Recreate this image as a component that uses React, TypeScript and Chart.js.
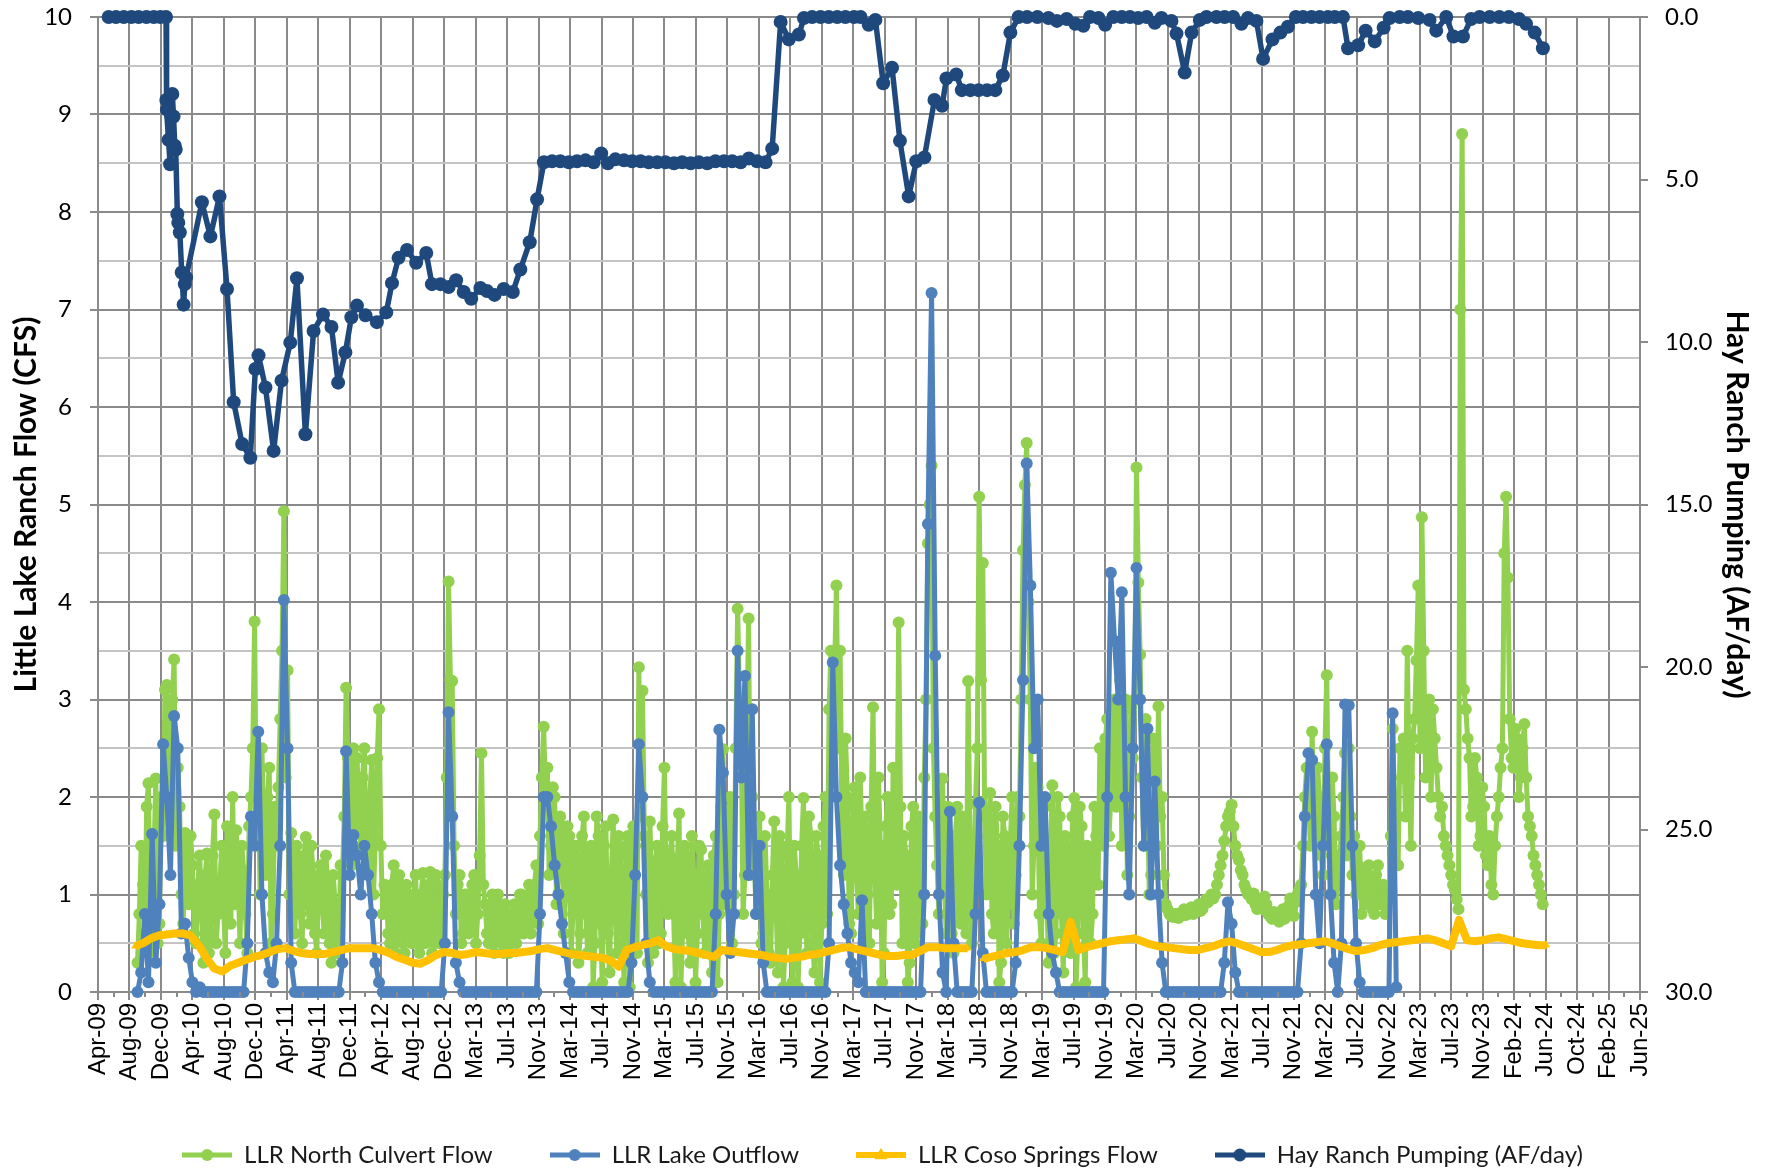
import React, { useEffect, useRef } from 'react';
import { Chart, registerables } from 'chart.js';

Chart.register(...registerables);

// ---------- axis labels ----------
const X_LABELS = [
  'Apr-09', 'Aug-09', 'Dec-09', 'Apr-10', 'Aug-10', 'Dec-10', 'Apr-11', 'Aug-11', 'Dec-11',
  'Apr-12', 'Aug-12', 'Dec-12', 'Mar-13', 'Jul-13', 'Nov-13', 'Mar-14', 'Jul-14', 'Nov-14',
  'Mar-15', 'Jul-15', 'Nov-15', 'Mar-16', 'Jul-16', 'Nov-16', 'Mar-17', 'Jul-17', 'Nov-17',
  'Mar-18', 'Jul-18', 'Nov-18', 'Mar-19', 'Jul-19', 'Nov-19', 'Mar-20', 'Jul-20', 'Nov-20',
  'Mar-21', 'Jul-21', 'Nov-21', 'Mar-22', 'Jul-22', 'Nov-22', 'Mar-23', 'Jul-23', 'Nov-23',
  'Feb-24', 'Jun-24', 'Oct-24', 'Feb-25', 'Jun-25',
];
const X_MIN = 2009.277; // decimal year of first tick
const X_STEP = 0.33077; // years between ticks

const SERIES_NAMES = ['LLR North Culvert Flow', 'LLR Lake Outflow', 'LLR Coso Springs Flow', 'Hay Ranch Pumping (AF/day)'];
const LEFT_TITLE = 'Little Lake Ranch Flow (CFS)';
const RIGHT_TITLE = 'Hay Ranch Pumping (AF/day)';

// ---------- LLR North Culvert Flow (CFS), biweekly samples: value k at year + k/26 ----------
const green2009 = [0.3, 1.5, 0.6, 2.14, 0.9, 2.19, 0.7, 1.6]; // from k = 18
const green2010 = [3.15, 2.6, 3.41, 2.3, 1.0, 1.63, 0.9, 1.3, 0.5, 1.4, 0.3, 1.42, 0.6, 1.82, 0.8, 1.5, 0.4, 1.3, 2.0, 1.66, 0.5, 1.25, 0.4, 2.0, 3.8, 2.2];
const green2011 = [2.5, 1.2, 2.3, 0.8, 1.5, 2.8, 4.93, 3.3, 1.63, 0.6, 1.35, 0.5, 1.59, 0.7, 1.2, 0.4, 1.3, 0.6, 1.1, 0.3, 0.9, 0.5, 1.2, 3.12, 2.0, 2.5];
const green2012 = [2.4, 1.5, 2.5, 1.2, 2.38, 1.6, 2.9, 0.8, 1.0, 0.5, 1.3, 0.6, 1.1, 0.4, 1.0, 0.5, 1.2, 0.4, 1.22, 0.6, 1.23, 0.5, 1.1, 0.6, 1.2, 4.21];
const green2013 = [3.19, 0.8, 1.2, 0.6, 1.0, 0.7, 1.2, 0.8, 2.45, 0.9, 0.5, 1.0, 0.6, 0.9, 0.4, 0.8, 0.5, 0.9, 0.6, 1.0, 0.7, 1.1, 0.8, 1.3, 1.6, 2.72];
const green2014 = [2.3, 1.5, 2.0, 1.2, 1.7, 1.0, 1.6, 0.8, 1.5, 0.6, 1.8, 0.4, 1.5, 0.5, 1.6, 0.1, 1.7, 0.2, 1.77, 0.4, 1.4, 0.1, 1.6, 0.5, 1.5, 3.33];
const green2015 = [3.09, 1.0, 1.75, 0.4, 1.5, 0.6, 2.3, 0.8, 1.6, 0.1, 1.83, 0.7, 1.4, 0.3, 1.2, 0.6, 1.46, 0.4, 1.3, 0.2, 1.6, 0.8, 2.49, 1.2, 2.0, 1.0];
const green2016 = [3.93, 2.5, 1.2, 3.83, 2.0, 0.8, 1.8, 0.6, 1.0, 0.3, 1.75, 0.2, 1.5, 0.5, 2.0, 0.1, 1.2, 0.6, 1.99, 0.4, 1.6, 0.2, 1.4, 0.7, 2.0, 2.9];
const green2017 = [2.5, 4.17, 3.5, 1.2, 2.0, 0.6, 2.1, 0.8, 1.5, 1.8, 0.5, 2.92, 0.7, 1.5, 0.4, 2.0, 0.9, 1.6, 3.79, 0.5, 1.4, 0.3, 1.9, 0.6, 1.5, 2.2];
const green2018 = [4.6, 5.4, 1.8, 0.8, 2.19, 0.6, 1.5, 0.4, 1.9, 0.7, 1.2, 3.19, 0.5, 1.93, 5.08, 4.4, 1.0, 2.04, 0.6, 1.5, 0.3, 1.6, 0.9, 2.0, 1.2, 1.8];
const green2019 = [4.53, 5.63, 3.0, 1.5, 2.1, 0.5, 1.9, 0.3, 2.12, 0.6, 1.8, 0.2, 1.5, 0.4, 1.99, 0.6, 1.7, 0.1, 1.4, 0.8, 1.6, 2.5, 1.5, 2.8, 2.0, 3.0];
const green2020 = [2.5, 1.5, 3.0, 1.8, 2.4, 5.38, 3.46, 1.5, 2.0, 1.2, 2.0, 2.93, 2.0, 0.9, 0.8, 0.77, 0.8, 0.78, 0.85, 0.8, 0.87, 0.82, 0.9, 0.85, 0.95, 0.96];
const green2021 = [0.96, 1.1, 1.3, 1.55, 1.8, 1.92, 1.5, 1.35, 1.2, 1.05, 1.0, 1.01, 0.85, 0.95, 0.98, 0.8, 0.75, 0.81, 0.72, 0.85, 0.8, 0.96, 0.78, 1.0, 1.1, 2.0];
const green2022 = [2.0, 2.67, 1.5, 2.0, 1.2, 3.25, 1.0, 1.8, 1.1, 1.6, 2.45, 2.5, 1.2, 1.0, 1.5, 1.27, 0.9, 1.1, 0.8, 1.3, 0.96, 0.8, 1.0, 2.7, 1.8, 2.5];
const green2023 = [2.6, 3.5, 1.5, 2.8, 4.17, 4.87, 2.2, 3.0, 2.9, 2.3, 1.8, 1.6, 1.4, 1.2, 1.05, 0.85, 8.8, 2.9, 2.4, 1.9, 2.2, 1.6, 1.9, 1.3, 1.1, 1.5];
const green2024 = [2.0, 2.5, 5.08, 2.8, 2.3, 2.6, 2.2, 2.75, 1.8, 1.6, 1.3, 1.1, 0.9];

// in-between samples (value k at year + (k + 0.5)/26)
const greenMid2009 = [0.8, 1.1, 1.9, 0.4, 1.4, 0.5, 2.0, 3.1]; // from k = 18
const greenMid2010 = [1.8, 3.0, 1.5, 1.9, 0.7, 1.2, 1.6, 0.6, 1.1, 0.8, 1.2, 0.4, 1.4, 0.5, 1.1, 0.9, 1.7, 0.7, 0.9, 1.1, 1.5, 0.8, 1.7, 2.5, 1.5, 1.0];
const greenMid2011 = [1.6, 2.0, 0.5, 1.9, 2.1, 3.5, 2.2, 1.0, 1.2, 1.5, 0.8, 1.4, 0.9, 1.5, 0.6, 1.1, 0.9, 1.4, 0.5, 1.2, 0.4, 1.3, 1.8, 2.4, 1.3, 1.7];
const greenMid2012 = [1.9, 2.2, 1.4, 2.0, 1.0, 2.4, 1.5, 1.1, 0.6, 1.1, 0.4, 1.2, 0.5, 1.1, 0.6, 1.0, 0.5, 1.0, 0.5, 1.1, 0.4, 1.2, 0.5, 1.0, 2.2, 3.2];
const greenMid2013 = [1.5, 1.1, 0.5, 1.0, 0.6, 1.1, 0.5, 1.4, 1.1, 0.6, 0.9, 0.4, 1.0, 0.5, 0.9, 0.4, 0.8, 0.5, 1.0, 0.6, 0.9, 0.6, 1.1, 0.7, 2.2, 2.0];
const greenMid2014 = [1.2, 2.1, 0.9, 1.8, 0.6, 1.7, 0.4, 1.5, 0.3, 1.6, 0.8, 1.4, 0.05, 1.8, 0.7, 1.5, 0.6, 1.2, 0.8, 1.6, 0.5, 1.5, 0.05, 1.7, 0.4, 1.8];
const greenMid2015 = [1.6, 0.3, 1.2, 1.3, 0.5, 1.7, 0.9, 1.4, 0.8, 1.3, 0.05, 1.5, 0.6, 1.6, 0.1, 1.5, 0.8, 1.2, 0.5, 1.4, 0.1, 1.9, 0.9, 1.8, 0.5, 2.5];
const greenMid2016 = [3.0, 0.8, 2.6, 1.2, 1.5, 1.4, 0.5, 1.6, 0.4, 1.2, 0.9, 1.6, 0.05, 1.4, 0.6, 1.5, 0.05, 1.5, 0.7, 1.8, 0.5, 1.6, 0.1, 1.7, 0.8, 3.5];
const greenMid2017 = [3.3, 2.5, 1.8, 2.6, 0.7, 1.9, 1.2, 2.2, 0.6, 1.0, 1.9, 1.2, 2.2, 0.1, 1.7, 0.8, 2.3, 1.1, 1.9, 1.6, 0.1, 1.7, 0.5, 1.8, 0.7, 3.0];
const greenMid2018 = [5.0, 2.5, 1.3, 1.5, 1.1, 1.9, 0.6, 1.6, 0.8, 1.8, 0.6, 1.4, 1.2, 2.5, 3.2, 1.8, 1.6, 0.8, 1.9, 0.1, 1.8, 0.5, 1.5, 0.7, 2.0, 3.0];
const greenMid2019 = [5.2, 4.0, 1.0, 2.3, 0.8, 1.6, 0.9, 1.5, 0.4, 2.0, 0.8, 1.6, 0.7, 1.8, 0.05, 1.9, 0.6, 1.5, 0.5, 1.9, 1.1, 1.8, 2.6, 1.6, 2.9, 1.9];
const greenMid2020 = [3.2, 2.2, 1.2, 2.9, 3.0, 4.2, 2.2, 2.8, 1.0, 2.6, 1.5, 1.8, 1.2, 0.85, 0.78, 0.8, 0.76, 0.82, 0.79, 0.84, 0.8, 0.86, 0.83, 0.9, 0.92, 1.0];
const greenMid2021 = [1.0, 1.2, 1.4, 1.7, 1.85, 1.7, 1.4, 1.25, 1.1, 1.0, 0.95, 0.9, 0.92, 0.85, 0.9, 0.78, 0.82, 0.76, 0.8, 0.75, 0.88, 0.85, 0.92, 1.05, 1.5, 2.3];
const greenMid2022 = [1.5, 1.8, 2.3, 1.4, 2.5, 1.6, 2.2, 0.9, 1.4, 2.0, 1.4, 1.8, 1.6, 1.3, 0.8, 1.1, 1.3, 0.85, 1.2, 0.9, 1.1, 1.0, 1.6, 2.0, 1.3, 2.2];
const greenMid2023 = [1.8, 2.2, 2.6, 3.4, 2.5, 3.5, 2.8, 2.0, 2.6, 2.0, 1.9, 1.5, 1.3, 1.1, 0.95, 7.0, 3.1, 2.6, 1.8, 2.4, 1.5, 2.1, 1.4, 1.6, 1.0, 1.8];
const greenMid2024 = [2.3, 4.5, 4.25, 2.4, 2.7, 2.0, 2.5, 2.2, 1.7, 1.4, 1.2, 1.0];

// ---------- LLR Lake Outflow (CFS), biweekly ----------
const blue2009 = [0, 0.2, 0.8, 0.1, 1.62, 0.3, 0.9, 2.54]; // from k = 18
const blue2010 = [2.0, 1.2, 2.83, 2.5, 0.6, 0.7, 0.35, 0.1, 0, 0.05, 0, 0, 0, 0, 0, 0, 0, 0, 0, 0, 0, 0, 0.5, 1.8, 1.5, 2.67];
const blue2011 = [1.0, 0.4, 0.2, 0.1, 0.5, 1.5, 4.02, 2.5, 0.3, 0, 0, 0, 0, 0, 0, 0, 0, 0, 0, 0, 0, 0, 0.3, 2.47, 1.2, 1.61];
const blue2012 = [1.4, 1.0, 1.5, 1.2, 0.8, 0.3, 0.1, 0, 0, 0, 0, 0, 0, 0, 0, 0, 0, 0, 0, 0, 0, 0, 0, 0, 0.5, 2.87];
const blue2013 = [1.8, 0.3, 0.1, 0, 0, 0, 0, 0, 0, 0, 0, 0, 0, 0, 0, 0, 0, 0, 0, 0, 0, 0, 0, 0, 0.8, 2.0];
const blue2014 = [2.0, 1.7, 1.3, 1.0, 0.7, 0.4, 0.1, 0, 0, 0, 0, 0, 0, 0, 0, 0, 0, 0, 0, 0, 0, 0, 0, 0.3, 1.2, 2.54];
const blue2015 = [2.0, 0.5, 0.1, 0, 0, 0, 0, 0, 0, 0, 0, 0, 0, 0, 0, 0, 0, 0, 0, 0, 0.8, 2.69, 2.25, 1.0, 0.4, 0.8];
const blue2016 = [3.5, 2.2, 3.24, 1.2, 2.9, 0.8, 1.5, 0.3, 0, 0, 0, 0, 0, 0, 0, 0, 0, 0, 0, 0, 0, 0, 0, 0, 0, 0.5];
const blue2017 = [3.38, 2.0, 1.3, 0.9, 0.6, 0.3, 0.2, 0.1, 0.94, 0, 0, 0, 0, 0, 0, 0, 0, 0, 0, 0, 0, 0, 0, 0, 0, 1.0];
const blue2018 = [4.8, 7.17, 3.45, 1.0, 0.2, 0, 1.85, 0.5, 0, 0, 0, 0, 0, 0.8, 1.94, 0.4, 0, 0, 0, 0, 0, 0, 0, 0, 0.3, 1.5];
const blue2019 = [3.2, 5.42, 4.17, 2.5, 3.0, 1.5, 2.0, 0.8, 0.4, 0.2, 0, 0, 0, 0, 0, 0, 0, 0, 0, 0, 0, 0, 0, 2.0, 4.3, 3.6];
const blue2020 = [3.0, 4.1, 2.0, 1.0, 2.5, 4.35, 3.0, 1.5, 2.7, 1.0, 2.16, 1.0, 0.3, 0, 0, 0, 0, 0, 0, 0, 0, 0, 0, 0, 0, 0];
const blue2021 = [0, 0, 0, 0.3, 0.92, 0.7, 0.2, 0, 0, 0, 0, 0, 0, 0, 0, 0, 0, 0, 0, 0, 0, 0, 0, 0, 0.5, 1.8];
const blue2022 = [2.45, 2.38, 1.0, 0.5, 1.5, 2.54, 1.0, 0.3, 0, 0.5, 2.95, 2.94, 1.5, 0.5, 0.1, 0, 0, 0, 0, 0, 0, 0, 0, 2.86, 0.05];

// ---------- LLR Coso Springs Flow (CFS), monthly: value k at year + k/12 ----------
const coso2009 = [0.47, 0.5, 0.55, 0.58]; // from k = 8
const coso2010 = [0.59, 0.6, 0.6, 0.58, 0.48, 0.35, 0.24, 0.21, 0.27, 0.3, 0.33, 0.36];
const coso2011 = [0.38, 0.41, 0.44, 0.45, 0.42, 0.4, 0.39, 0.39, 0.39, 0.41, 0.43, 0.45];
const coso2012 = [0.45, 0.45, 0.45, 0.43, 0.4, 0.36, 0.33, 0.3, 0.29, 0.33, 0.38, 0.41];
const coso2013 = [0.4, 0.38, 0.39, 0.41, 0.4, 0.39, 0.39, 0.4, 0.4, 0.41, 0.42, 0.44];
const coso2014 = [0.45, 0.43, 0.41, 0.39, 0.38, 0.37, 0.36, 0.35, 0.32, 0.26, 0.43, 0.46];
const coso2015 = [0.48, 0.5, 0.53, 0.47, 0.44, 0.43, 0.42, 0.4, 0.38, 0.36, 0.43, 0.42];
const coso2016 = [0.41, 0.4, 0.39, 0.38, 0.36, 0.35, 0.34, 0.35, 0.36, 0.38, 0.39, 0.41];
const coso2017 = [0.43, 0.45, 0.46, 0.44, 0.42, 0.4, 0.38, 0.37, 0.37, 0.38, 0.38, 0.42];
const coso2018 = [0.46, 0.46, 0.45, 0.45, 0.45, 0.45, null, 0.34, 0.36, 0.38, 0.4, 0.41];
const coso2019 = [0.43, 0.46, 0.46, 0.45, 0.43, 0.41, 0.72, 0.43, 0.46, 0.48, 0.5, 0.52];
const coso2020 = [0.53, 0.54, 0.55, 0.52, 0.49, 0.47, 0.46, 0.45, 0.44, 0.43, 0.43, 0.45];
const coso2021 = [0.47, 0.5, 0.52, 0.5, 0.47, 0.44, 0.41, 0.41, 0.43, 0.46, 0.48, 0.49];
const coso2022 = [0.5, 0.51, 0.52, 0.5, 0.47, 0.44, 0.42, 0.43, 0.45, 0.48, 0.5, 0.51];
const coso2023 = [0.52, 0.53, 0.54, 0.55, 0.53, 0.5, 0.47, 0.74, 0.53, 0.52, 0.53, 0.55];
const coso2024 = [0.56, 0.54, 0.52, 0.5, 0.49, 0.48, 0.48];

// ---------- Hay Ranch Pumping (AF/day): [decimal year, value] ----------
const hayRanch2009to2012: [number, number][] = [
  [2009.389, 0], [2009.466, 0], [2009.548, 0], [2009.628, 0], [2009.704, 0], [2009.786, 0], [2009.863, 0],
  [2009.932, 0], [2009.992, 0], [2009.995, 2.55], [2010.001, 2.85], [2010.018, 3.78], [2010.035, 4.53],
  [2010.048, 3.06], [2010.058, 2.37], [2010.071, 3.06], [2010.084, 3.96], [2010.094, 4.08], [2010.111, 6.06],
  [2010.121, 6.33], [2010.137, 6.63], [2010.157, 7.86], [2010.177, 8.85], [2010.19, 8.22], [2010.203, 8.01],
  [2010.369, 5.7], [2010.458, 6.75], [2010.554, 5.52], [2010.633, 8.37], [2010.703, 11.85], [2010.792, 13.14],
  [2010.878, 13.56], [2010.931, 10.83], [2010.964, 10.41], [2011.037, 11.4], [2011.123, 13.35], [2011.206, 11.19],
  [2011.298, 10.02], [2011.368, 8.04], [2011.457, 12.84], [2011.543, 9.66], [2011.642, 9.15], [2011.731, 9.54],
  [2011.801, 11.25], [2011.877, 10.32], [2011.94, 9.24], [2011.999, 8.88], [2012.089, 9.18], [2012.208, 9.39],
  [2012.307, 9.09], [2012.367, 8.19], [2012.436, 7.41], [2012.525, 7.17], [2012.621, 7.56], [2012.727, 7.26],
  [2012.787, 8.22], [2012.876, 8.22], [2012.962, 8.31],
];
const hayRanch2013to2016: [number, number][] = [
  [2013.041, 8.1], [2013.121, 8.46], [2013.2, 8.67], [2013.296, 8.34], [2013.366, 8.43], [2013.445, 8.55],
  [2013.541, 8.37], [2013.637, 8.46], [2013.716, 7.77], [2013.815, 6.93], [2013.892, 5.61], [2013.964, 4.47],
  [2014.05, 4.44], [2014.136, 4.44], [2014.226, 4.47], [2014.312, 4.44], [2014.401, 4.41], [2014.487, 4.47],
  [2014.566, 4.2], [2014.636, 4.5], [2014.715, 4.38], [2014.805, 4.41], [2014.891, 4.44], [2014.98, 4.44],
  [2015.066, 4.47], [2015.155, 4.47], [2015.241, 4.47], [2015.331, 4.5], [2015.417, 4.47], [2015.506, 4.5],
  [2015.592, 4.47], [2015.681, 4.5], [2015.767, 4.44], [2015.857, 4.44], [2015.943, 4.44], [2016.032, 4.47],
  [2016.118, 4.35], [2016.204, 4.44], [2016.293, 4.47], [2016.363, 4.05], [2016.452, 0.15], [2016.538, 0.69],
  [2016.644, 0.54], [2016.697, 0.03], [2016.783, 0], [2016.872, 0], [2016.958, 0],
];
const hayRanch2017to2020: [number, number][] = [
  [2017.047, 0], [2017.133, 0], [2017.223, 0], [2017.292, 0], [2017.378, 0.24], [2017.448, 0.09],
  [2017.53, 2.04], [2017.623, 1.56], [2017.706, 3.81], [2017.798, 5.52], [2017.878, 4.44], [2017.963, 4.32],
  [2018.069, 2.55], [2018.149, 2.73], [2018.195, 1.89], [2018.298, 1.77], [2018.357, 2.25], [2018.447, 2.25],
  [2018.533, 2.25], [2018.622, 2.25], [2018.708, 2.25], [2018.788, 1.8], [2018.867, 0.48], [2018.953, 0],
  [2019.042, 0], [2019.151, 0], [2019.267, 0.03], [2019.356, 0.12], [2019.459, 0.06], [2019.548, 0.21],
  [2019.634, 0.27], [2019.704, 0], [2019.793, 0.03], [2019.863, 0.24], [2019.949, 0], [2020.038, 0],
  [2020.124, 0], [2020.21, 0.03], [2020.299, 0], [2020.385, 0.18], [2020.455, 0.03], [2020.56, 0.12],
  [2020.613, 0.51], [2020.699, 1.71], [2020.772, 0.48], [2020.858, 0.09], [2020.928, 0],
];
const hayRanch2021to2024: [number, number][] = [
  [2021.033, 0], [2021.119, 0], [2021.209, 0], [2021.295, 0.21], [2021.364, 0.03], [2021.453, 0.12],
  [2021.523, 1.29], [2021.622, 0.69], [2021.705, 0.48], [2021.784, 0.3], [2021.867, 0], [2021.943, 0],
  [2022.032, 0], [2022.118, 0], [2022.205, 0], [2022.277, 0], [2022.363, 0], [2022.416, 0.96],
  [2022.522, 0.87], [2022.601, 0.42], [2022.697, 0.75], [2022.79, 0.33], [2022.853, 0.03], [2022.959, 0],
  [2023.045, 0], [2023.154, 0.03], [2023.273, 0.09], [2023.343, 0.42], [2023.448, 0], [2023.524, 0.6],
  [2023.624, 0.6], [2023.71, 0.06], [2023.799, 0], [2023.905, 0], [2024.007, 0], [2024.107, 0],
  [2024.212, 0.06], [2024.288, 0.21], [2024.378, 0.48], [2024.464, 0.96],
];

// ---------- colours ----------
const GREEN = '#92D050';
const BLUE = '#4F81BD';
const YELLOW = '#FFC000';
const NAVY = '#1F497D';
const GRID_DARK = '#8a8a8a';
const GRID_LIGHT = '#c4c4c4';

type Chunk = [number, number, (number | null)[]];

function sampled(chunks: Chunk[], perYear: number, offset = 0) {
  const out: { x: number; y: number | null }[] = [];
  for (const [year, k0, vals] of chunks) {
    vals.forEach((v, i) => out.push({ x: year + (k0 + i + offset) / perYear, y: v }));
  }
  return out;
}

function legendSample(color: string, style: 'circle' | 'triangle', r: number, lw: number) {
  const c = document.createElement('canvas');
  c.width = 50;
  c.height = 18;
  const g = c.getContext('2d')!;
  g.strokeStyle = color;
  g.fillStyle = color;
  g.lineWidth = lw;
  g.beginPath();
  g.moveTo(0, 9);
  g.lineTo(50, 9);
  g.stroke();
  g.beginPath();
  if (style === 'circle') {
    g.arc(25, 9, r, 0, Math.PI * 2);
  } else {
    g.moveTo(25, 9 - r * 1.2);
    g.lineTo(25 + r * 1.1, 9 + r * 0.7);
    g.lineTo(25 - r * 1.1, 9 + r * 0.7);
    g.closePath();
  }
  g.fill();
  return c;
}

// short minor tick marks between the labelled x ticks
const minorTicks = {
  id: 'minorTicks',
  afterDraw(chart: any) {
    const xs = chart.scales.x;
    const ctx = chart.ctx;
    const y0 = chart.chartArea.bottom;
    ctx.save();
    ctx.strokeStyle = GRID_DARK;
    ctx.lineWidth = 2;
    for (let i = 0; i < X_LABELS.length - 1; i++) {
      const px = Math.round(xs.getPixelForValue(X_MIN + (i + 0.5) * X_STEP));
      ctx.beginPath();
      ctx.moveTo(px, y0);
      ctx.lineTo(px, y0 + 5);
      ctx.stroke();
    }
    ctx.restore();
  },
};

export default function App() {
  const ref = useRef<HTMLCanvasElement>(null);

  useEffect(() => {
    document.body.style.margin = '0';
    const greenMain = sampled([
      [2009, 18, green2009], [2010, 0, green2010], [2011, 0, green2011], [2012, 0, green2012],
      [2013, 0, green2013], [2014, 0, green2014], [2015, 0, green2015], [2016, 0, green2016],
      [2017, 0, green2017], [2018, 0, green2018], [2019, 0, green2019], [2020, 0, green2020],
      [2021, 0, green2021], [2022, 0, green2022], [2023, 0, green2023], [2024, 0, green2024],
    ], 26);
    const greenMid = sampled([
      [2009, 18, greenMid2009], [2010, 0, greenMid2010], [2011, 0, greenMid2011], [2012, 0, greenMid2012],
      [2013, 0, greenMid2013], [2014, 0, greenMid2014], [2015, 0, greenMid2015], [2016, 0, greenMid2016],
      [2017, 0, greenMid2017], [2018, 0, greenMid2018], [2019, 0, greenMid2019], [2020, 0, greenMid2020],
      [2021, 0, greenMid2021], [2022, 0, greenMid2022], [2023, 0, greenMid2023], [2024, 0, greenMid2024],
    ], 26, 0.5);
    const greenData = [...greenMain, ...greenMid].sort((a, b) => a.x - b.x);
    const blueData = sampled([
      [2009, 18, blue2009], [2010, 0, blue2010], [2011, 0, blue2011], [2012, 0, blue2012],
      [2013, 0, blue2013], [2014, 0, blue2014], [2015, 0, blue2015], [2016, 0, blue2016],
      [2017, 0, blue2017], [2018, 0, blue2018], [2019, 0, blue2019], [2020, 0, blue2020],
      [2021, 0, blue2021], [2022, 0, blue2022],
    ], 26);
    const cosoData = sampled([
      [2009, 8, coso2009], [2010, 0, coso2010], [2011, 0, coso2011], [2012, 0, coso2012],
      [2013, 0, coso2013], [2014, 0, coso2014], [2015, 0, coso2015], [2016, 0, coso2016],
      [2017, 0, coso2017], [2018, 0, coso2018], [2019, 0, coso2019], [2020, 0, coso2020],
      [2021, 0, coso2021], [2022, 0, coso2022], [2023, 0, coso2023], [2024, 0, coso2024],
    ], 12);
    const hayData = [...hayRanch2009to2012, ...hayRanch2013to2016, ...hayRanch2017to2020, ...hayRanch2021to2024]
      .map(([x, y]) => ({ x, y }));

    const samples = [
      legendSample(GREEN, 'circle', 6, 5),
      legendSample(BLUE, 'circle', 6, 5),
      legendSample(YELLOW, 'triangle', 6, 6),
      legendSample(NAVY, 'circle', 6.5, 5),
    ];
    const colors = [GREEN, BLUE, YELLOW, NAVY];
    const noVPad = (s: any) => { s.paddingTop = 0; s.paddingBottom = 0; };

    const chart = new Chart(ref.current!, {
      type: 'line',
      data: {
        datasets: [
          {
            label: SERIES_NAMES[0], data: greenData, yAxisID: 'y', order: 4,
            borderColor: GREEN, backgroundColor: GREEN, borderWidth: 5,
            pointRadius: 6, pointBorderWidth: 0, pointBackgroundColor: GREEN,
            borderJoinStyle: 'round', clip: false,
          },
          {
            label: SERIES_NAMES[1], data: blueData, yAxisID: 'y', order: 3,
            borderColor: BLUE, backgroundColor: BLUE, borderWidth: 5,
            pointRadius: 6, pointBorderWidth: 0, pointBackgroundColor: BLUE,
            borderJoinStyle: 'round', clip: false,
          },
          {
            label: SERIES_NAMES[2], data: cosoData, yAxisID: 'y', order: 2,
            borderColor: YELLOW, backgroundColor: YELLOW, borderWidth: 8,
            pointRadius: 4.5, pointStyle: 'triangle', pointBorderWidth: 0, pointBackgroundColor: YELLOW,
            borderJoinStyle: 'round', spanGaps: false, clip: false,
          },
          {
            label: SERIES_NAMES[3], data: hayData, yAxisID: 'y2', order: 1,
            borderColor: NAVY, backgroundColor: NAVY, borderWidth: 5.5,
            pointRadius: 7, pointBorderWidth: 0, pointBackgroundColor: NAVY,
            borderJoinStyle: 'round', clip: false,
          },
        ],
      },
      options: {
        responsive: false,
        animation: false,
        devicePixelRatio: 1,
        layout: { padding: { top: 17, left: 0, right: 0, bottom: -4 } },
        plugins: {
          tooltip: { enabled: false },
          legend: {
            position: 'bottom',
            labels: {
              usePointStyle: true,
              pointStyleWidth: 50,
              padding: 57,
              color: '#1a1a1a',
              font: { family: 'Lato', size: 24 },
              generateLabels: () => SERIES_NAMES.map((text, i) => ({
                text,
                datasetIndex: i,
                fillStyle: colors[i],
                strokeStyle: colors[i],
                lineWidth: 0,
                hidden: false,
                pointStyle: samples[i] as any,
                fontColor: '#1a1a1a',
              })),
            },
          },
        },
        scales: {
          x: {
            type: 'linear',
            position: 'bottom',
            min: X_MIN,
            max: X_MIN + (X_LABELS.length - 1) * X_STEP,
            afterBuildTicks: (s: any) => {
              s.ticks = X_LABELS.map((_, i) => ({ value: X_MIN + i * X_STEP }));
            },
            afterFit: (s: any) => { s.height = 94; },
            ticks: {
              autoSkip: false,
              minRotation: 90,
              maxRotation: 90,
              padding: 3,
              color: '#000',
              font: { family: 'Liberation Sans', size: 24 },
              callback: (_v: any, i: number) => X_LABELS[i],
            },
            grid: { color: GRID_DARK, lineWidth: 2, tickLength: 8, tickColor: GRID_DARK },
            border: { color: GRID_DARK, width: 2 },
          },
          y: {
            type: 'linear',
            position: 'left',
            min: 0,
            max: 10,
            afterFit: (s: any) => { s.width = 98; noVPad(s); },
            ticks: {
              stepSize: 0.5,
              autoSkip: false,
              padding: 18,
              color: '#000',
              font: { family: 'Lato', size: 24 },
              callback: (v: any) => (Number.isInteger(v) ? String(v) : ''),
            },
            grid: {
              lineWidth: 2,
              tickLength: 8,
              color: (c: any) => (Number.isInteger(c.tick?.value) ? GRID_DARK : GRID_LIGHT),
              tickColor: (c: any) => (Number.isInteger(c.tick?.value) ? GRID_DARK : 'rgba(0,0,0,0)'),
            },
            border: { color: GRID_DARK, width: 2 },
            title: {
              display: true,
              text: LEFT_TITLE,
              color: '#000',
              font: { family: 'Lato', size: 30, weight: 'bold' },
              padding: { top: 8, bottom: 0 },
            },
          },
          y2: {
            type: 'linear',
            position: 'right',
            min: 0,
            max: 30,
            reverse: true,
            afterFit: (s: any) => { s.width = 125; noVPad(s); },
            ticks: {
              stepSize: 5,
              padding: 17,
              color: '#000',
              font: { family: 'Lato', size: 24 },
              callback: (v: any) => Number(v).toFixed(1),
            },
            grid: { drawOnChartArea: false, lineWidth: 2, tickLength: 8, color: GRID_DARK, tickColor: GRID_DARK },
            border: { color: GRID_DARK, width: 2 },
            title: {
              display: true,
              text: RIGHT_TITLE,
              color: '#000',
              font: { family: 'Lato', size: 30, weight: 'bold' },
              padding: { top: 10, bottom: 0 },
            },
          },
        },
      },
      plugins: [minorTicks],
    } as any);

    return () => chart.destroy();
  }, []);

  return <canvas ref={ref} width={1765} height={1173} style={{ display: 'block' }} />;
}
